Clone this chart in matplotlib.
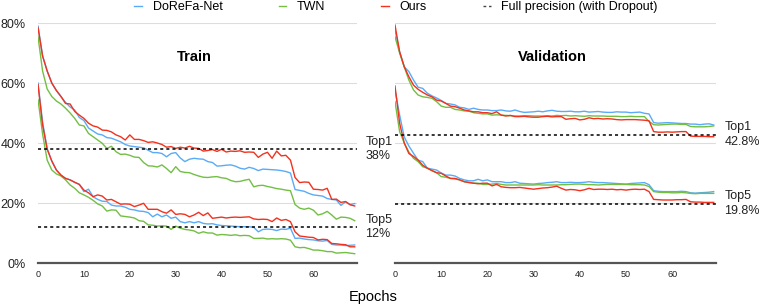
import numpy as np
import matplotlib.pyplot as plt
from matplotlib.lines import Line2D
from matplotlib.transforms import blended_transform_factory

plt.rcParams['font.family'] = ['Liberation Sans', 'DejaVu Sans']

# epochs 0..69, error rates in %
epochs = np.arange(70)

train_top1_dorefa = [79, 69, 64, 60, 57.5, 55.5, 53.5, 52, 51, 48.5, 47.5, 45, 44, 43, 42.7, 41.8, 41.6, 41, 40.4, 39.5,
                     39, 38.8, 38.6, 38.4, 37.6, 36.8, 36.8, 36.5, 35.4, 36.5, 36.8, 35, 33.8, 34.6, 34.9, 34.7, 34.6, 33.8, 33.5, 32.3,
                     32.4, 32.6, 32.7, 32.3, 31.6, 31.3, 31.9, 31.5, 30.8, 31.3, 31.2, 31.1, 31, 30.8, 30.5, 30, 24.5, 24.2, 23.9, 23.2,
                     22.7, 22.5, 22.3, 21.5, 21.2, 21, 19.2, 20.4, 19.5, 19.8]
train_top1_twn = [75.5, 64, 58, 55.5, 54, 53, 51.6, 50, 48.2, 46, 45.7, 43.2, 42.1, 41, 39.9, 38.2, 38.9, 37.1, 36.2, 36.3,
                  35.9, 35.3, 35.2, 33.5, 32.4, 32.3, 32, 32.7, 31.5, 30.1, 32.1, 30.5, 30.2, 30.1, 29.5, 29, 28.6, 28.5, 28.7, 28.8,
                  28.4, 28.2, 27.5, 27.1, 27.2, 27.6, 27.9, 25.4, 25.8, 25.9, 25.5, 25.2, 24.8, 24.6, 24.3, 24.1, 19.5, 18.3, 17.9, 18.3,
                  17.6, 16, 16.4, 17.2, 16, 14.6, 15.3, 15.2, 14.9, 14.1]
train_top1_ours = [78.5, 69, 64, 60, 57.5, 55.5, 53.2, 53, 50.5, 49.3, 48.2, 46.6, 45.7, 45.3, 44.3, 44.2, 43.7, 42.7, 42.1, 41,
                   42.7, 41.2, 41.2, 40.8, 40.2, 40.4, 40, 39.5, 38.6, 38.8, 38.2, 38.6, 38.3, 38.9, 38.3, 38.2, 37.3, 37.5, 37.8, 37.2,
                   37.9, 37, 37.3, 37.2, 37.4, 36.9, 37, 36.9, 35.2, 36.3, 36.9, 34.9, 37.3, 35.7, 35.9, 34.3, 28.5, 26.8, 27, 26.9,
                   24.6, 24.5, 24.3, 24.9, 21.2, 21.3, 20.2, 20.5, 19.4, 19]

train_top5_dorefa = [60, 47, 38, 34, 31, 29.3, 28.2, 27.7, 26.9, 26.2, 23.8, 24.6, 22.1, 21.2, 20.6, 20.5, 19.3, 19, 19, 18.6,
                     17.9, 17.7, 17.3, 17.2, 16.8, 15.4, 16.3, 15.4, 16, 14.9, 15.3, 13.8, 13.4, 13.8, 13.4, 13.8, 13.2, 13, 13.1, 12.7,
                     12.5, 12.4, 12.3, 12.2, 12.1, 12.1, 12.1, 11.9, 10.4, 11.2, 11.3, 11.2, 10.8, 11.3, 11.2, 11.6, 8.2, 8.3, 8, 7.8,
                     7.7, 7.4, 7.3, 7.5, 6.2, 6, 6, 5.8, 5.9, 6]
train_top5_twn = [54.5, 43, 34.3, 31, 29.7, 29, 27.7, 26, 24.9, 23.4, 22.7, 21.9, 20.9, 19.7, 19, 17.3, 17.7, 17.6, 15.7, 15.5,
                  15.3, 15, 14.1, 13.9, 12.7, 12.6, 12.3, 12.4, 12.3, 11.2, 12.3, 11.6, 11.2, 11, 10.7, 9.9, 10.4, 10, 10, 9.3,
                  9.5, 9.4, 9.2, 9.4, 9.1, 9.2, 9.1, 8.2, 8.2, 8.3, 8, 8.1, 8, 8.1, 8, 7.6, 5.4, 5.1, 5.2, 4.8,
                  4.3, 4.3, 4.1, 3.8, 3.8, 3.3, 3.4, 3.5, 3.3, 3.1]
train_top5_ours = [59.5, 46, 38, 34, 31, 29.3, 28.2, 27.7, 26.9, 26.2, 24.3, 23.4, 22.1, 22.7, 22.3, 21, 21.2, 20.4, 19.6, 19.7,
                   19.6, 18.8, 19.3, 19.9, 17.9, 17.9, 17.9, 17.1, 16.6, 17.7, 16.2, 16.4, 16.2, 15.4, 16, 16.9, 15.8, 16.7, 14.9, 15.1,
                   15.3, 15, 15.2, 15.3, 15.2, 15.3, 15.4, 14.7, 14.5, 14.6, 14.5, 13.8, 15, 14.2, 14.5, 13.8, 10.4, 9, 8.8, 8.6,
                   8.5, 7.7, 7.9, 7.8, 6.5, 6.4, 6.2, 6.1, 5.4, 5.4]

val_top1_dorefa = [77.7, 70.4, 65.4, 63.8, 61, 58.6, 58.2, 56.6, 55.7, 55, 54.2, 53.2, 53, 52.7, 51.9, 51.7, 51.2, 51.6, 51.2, 51,
                   51, 50.8, 50.8, 51, 50.7, 50.6, 51, 50.5, 50.2, 50.3, 50.4, 50.6, 50.4, 50.7, 50.9, 50.6, 50.5, 50.5, 50.6, 50.4,
                   50.4, 50.6, 50.3, 50.4, 50.5, 50.3, 50.2, 50.2, 50.4, 50.3, 50.3, 50.1, 50.2, 50.3, 49.9, 49.7, 46.8, 46.6, 46.7, 46.8,
                   46.7, 46.6, 46.5, 46.5, 46.3, 46.3, 46.1, 46.3, 46.4, 46]
val_top1_twn = [75.4, 70, 65.4, 61, 57.7, 56, 55.4, 55.2, 54.9, 53.8, 52.3, 51.9, 51.9, 51.2, 51, 50.7, 50.6, 50.1, 49.9, 49.7,
                49.7, 49.3, 49.4, 49.3, 49.2, 49.1, 49, 49, 49.1, 49.1, 49, 49, 49, 49.1, 49, 49.2, 49.1, 49.2, 49, 49.1,
                49, 48.9, 49.1, 49, 49, 49, 48.9, 48.9, 48.9, 48.8, 48.8, 48.9, 48.8, 48.8, 48.8, 47.2, 46.1, 46, 46.1, 46.2,
                46.3, 46.3, 46.2, 46.2, 45.5, 45.4, 45.4, 45.4, 45.5, 45.7]
val_top1_ours = [79.3, 70.4, 65.4, 62.1, 59.3, 57.9, 56.9, 56, 55.4, 54.3, 54, 53.2, 52.3, 52.1, 51.6, 51, 50.7, 50.4, 50.4, 50.1,
                 50.1, 49.8, 50.4, 49.3, 49, 49.2, 48.8, 48.8, 48.9, 48.7, 48.6, 48.6, 48.8, 48.9, 48.7, 48.8, 48.8, 47.9, 48.1, 48.2,
                 47.7, 47.9, 48.4, 48.1, 48.2, 48, 48.1, 48, 47.8, 47.7, 47.8, 47.8, 47.8, 47.7, 47.6, 47.4, 43.8, 43.6, 43.6, 43.7,
                 43.6, 43.7, 43.8, 43.8, 42.3, 42.2, 42.2, 42.2, 42.1, 42.1]

val_top5_dorefa = [57.7, 49.3, 42, 39, 36.6, 34.3, 33.8, 31.6, 31.3, 31, 30, 29.3, 29.3, 29, 28.2, 27.7, 27.4, 27.4, 27.9, 27.4,
                   27.7, 27.1, 27.1, 27.1, 26.8, 26.8, 27.1, 26.6, 26.5, 26.4, 26.3, 26.5, 26.6, 26.8, 26.9, 27.1, 26.8, 26.8, 26.9, 26.8,
                   26.8, 26.9, 27.1, 26.9, 26.8, 26.8, 26.7, 26.6, 26.5, 26.4, 26.3, 26.5, 26.6, 26.7, 26.8, 26.1, 24.1, 23.9, 23.8, 23.8,
                   23.8, 23.8, 23.9, 23.8, 23.4, 23.3, 23.4, 23.5, 23.6, 23.8]
val_top5_twn = [53.8, 43.8, 40, 37, 34.9, 33.8, 32.1, 31.6, 30.8, 30.1, 28.8, 28.6, 28.2, 28, 27.7, 27.1, 26.9, 26.6, 26.6, 26.2,
                26.2, 26.3, 26.5, 26.2, 26, 26, 26, 26, 26, 26, 26, 26.1, 26, 26, 26, 26, 26.1, 26.1, 26.2, 26.3,
                26.3, 26.2, 26.1, 26.1, 26, 26.1, 26.2, 26.2, 26.2, 26.2, 26.2, 26.1, 26.1, 26.1, 26, 25.5, 23.8, 23.6, 23.5, 23.5,
                23.4, 23.4, 23.5, 23.4, 23.2, 23.1, 23.2, 23.2, 23.2, 23.2]
val_top5_ours = [59, 46.6, 40, 36.5, 35.5, 34.3, 32.6, 31.6, 30.8, 30.1, 29.9, 29, 28.2, 28.2, 27.7, 27.1, 26.8, 26.6, 26.4, 26.6,
                 26.6, 25.7, 26.2, 25.4, 25.2, 25.1, 25.1, 25.2, 25, 24.8, 24.6, 24.8, 25, 25.1, 25.3, 25.6, 24.9, 24.3, 24.5, 24.4,
                 24.1, 24.4, 24.9, 24.5, 24.6, 24.6, 24.5, 24.6, 24.4, 24.5, 24.3, 24.5, 24.6, 24.5, 24.6, 23.8, 21.2, 21.1, 21, 21,
                 21, 21.1, 21.1, 21.2, 20.4, 20.3, 20.3, 20.2, 20.2, 20.2]

# full precision reference (top1, top5)
train_full = [38, 12]
val_full = [42.8, 19.8]
train_full_labels = ['Top1\n38%', 'Top5\n12%']
val_full_labels = ['Top1\n42.8%', 'Top5\n19.8%']

names = ['DoReFa-Net', 'TWN', 'Ours']
colors = ['#5aabf7', '#72bf44', '#f2321e']

fig = plt.figure(figsize=(7.61, 3.08), dpi=100)
ax1 = fig.add_axes([38 / 761, 45 / 308, 319 / 761, 240 / 308])
ax2 = fig.add_axes([395 / 761, 45 / 308, 321 / 761, 240 / 308])

panels = [
    (ax1, 'Train', [train_top1_dorefa, train_top1_twn, train_top1_ours],
     [train_top5_dorefa, train_top5_twn, train_top5_ours], train_full, train_full_labels),
    (ax2, 'Validation', [val_top1_dorefa, val_top1_twn, val_top1_ours],
     [val_top5_dorefa, val_top5_twn, val_top5_ours], val_full, val_full_labels),
]

for ax, title, top1, top5, full, full_labels in panels:
    for vals, c in zip(top1, colors):
        ax.plot(epochs, vals, color=c, lw=1.0)
    for vals, c in zip(top5, colors):
        ax.plot(epochs, vals, color=c, lw=1.0)
    for v, lab in zip(full, full_labels):
        ax.axhline(v, color='black', lw=1.1, ls=(0, (2, 2)))
        tr = blended_transform_factory(ax.transAxes, ax.transData)
        ax.text(1.026, v, lab, transform=tr, ha='left', va='center', fontsize=9,
                linespacing=1.3, color='#222222')
    ax.set_xlim(0, 69.5)
    ax.set_ylim(0, 80)
    ax.set_xticks(range(0, 70, 10))
    ax.set_yticks([0, 20, 40, 60, 80])
    ax.grid(axis='y', color='#dddddd', lw=0.8)
    ax.set_axisbelow(True)
    for s in ['top', 'right', 'left']:
        ax.spines[s].set_visible(False)
    ax.spines['bottom'].set_color('#555555')
    ax.spines['bottom'].set_linewidth(1.6)
    ax.tick_params(axis='x', length=0, labelsize=6.5, pad=5, colors='#222222')
    ax.tick_params(axis='y', length=0, labelsize=9, pad=9, colors='#222222')
    ax.text(0.49, 0.86, title, transform=ax.transAxes, ha='center', va='center',
            fontsize=10.5, fontweight='bold')

ax1.set_yticklabels(['0%', '20%', '40%', '60%', '80%'])
ax2.set_yticklabels([])

fig.text(373 / 761, 1 - 297 / 308, 'Epochs', ha='center', va='center', fontsize=10.5)

handles = [Line2D([], [], color=c, lw=1.0) for c in colors]
handles.append(Line2D([], [], color='#444444', lw=1.0, ls=(0, (2, 2))))
fig.legend(handles, names + ['Full precision (with Dropout)'], loc='center',
           bbox_to_anchor=(396 / 761, 1 - 7 / 308), ncol=4, frameon=False, fontsize=9,
           handlelength=0.6, handletextpad=0.85, columnspacing=4.5, borderpad=0)

fig.savefig('out.png', dpi=100)
